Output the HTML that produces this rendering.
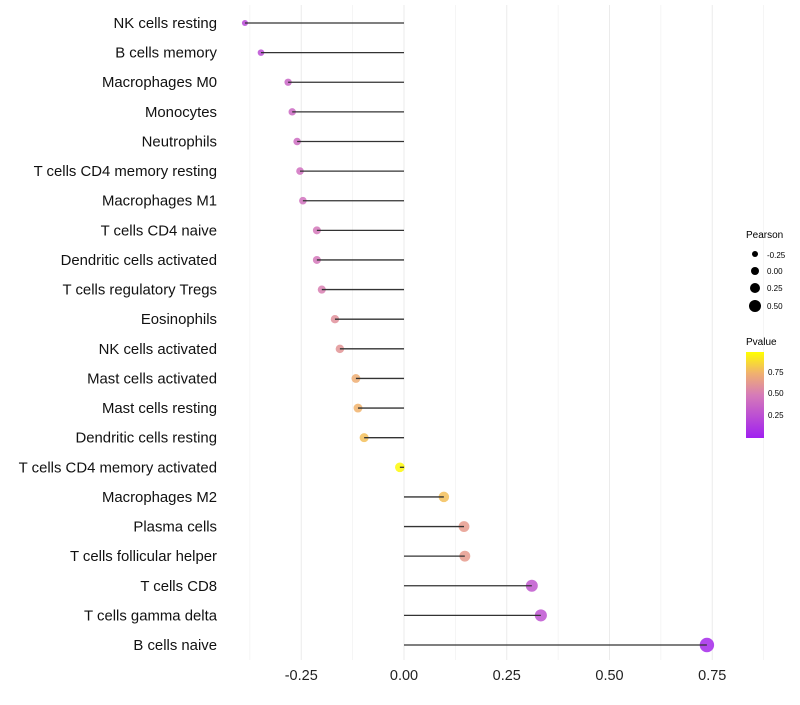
<!DOCTYPE html>
<html><head><meta charset="utf-8"><style>
body{margin:0;background:#fff;font-family:"Liberation Sans",sans-serif}
svg text{font-family:"Liberation Sans",sans-serif}
</style></head><body>
<svg id="chart" width="800" height="700" xmlns="http://www.w3.org/2000/svg">
<defs><linearGradient id="pg" x1="0" y1="1" x2="0" y2="0">
<stop offset="0" stop-color="#a020f0"/><stop offset="0.5" stop-color="#d67bb8"/><stop offset="0.75" stop-color="#f0b070"/><stop offset="1" stop-color="#ffff00"/>
</linearGradient></defs>
<g id="grid"></g>
<g id="marks"></g>
<g id="ylabels"></g>
<g id="xlabels"></g>
<g>
<text x="746" y="238" font-size="10">Pearson</text>
<circle cx="755" cy="254" r="3" fill="#000"/><text x="767" y="258" font-size="8">-0.25</text>
<circle cx="755" cy="271" r="4" fill="#000"/><text x="767" y="274" font-size="8">0.00</text>
<circle cx="755" cy="288" r="5" fill="#000"/><text x="767" y="291" font-size="8">0.25</text>
<circle cx="755" cy="306" r="6" fill="#000"/><text x="767" y="309" font-size="8">0.50</text>
</g>
<g>
<text x="746" y="345" font-size="10">Pvalue</text>
<rect x="746" y="352" width="18" height="86" fill="url(#pg)"/>
<text x="768" y="375" font-size="8">0.75</text>
<text x="768" y="396" font-size="8">0.50</text>
<text x="768" y="418" font-size="8">0.25</text>
</g>
</svg>
<script>
const categories=["NK cells resting","B cells memory","Macrophages M0","Monocytes","Neutrophils","T cells CD4 memory resting","Macrophages M1","T cells CD4 naive","Dendritic cells activated","T cells regulatory  Tregs ","Eosinophils","NK cells activated","Mast cells activated","Mast cells resting","Dendritic cells resting","T cells CD4 memory activated","Macrophages M2","Plasma cells","T cells follicular helper","T cells CD8","T cells gamma delta","B cells naive"];
const pearson=[-0.387,-0.348,-0.282,-0.272,-0.260,-0.253,-0.246,-0.212,-0.212,-0.200,-0.168,-0.156,-0.117,-0.112,-0.097,-0.010,0.097,0.146,0.148,0.311,0.333,0.737];
const pvalues=[0.22,0.25,0.38,0.40,0.42,0.44,0.45,0.48,0.48,0.52,0.60,0.62,0.74,0.76,0.80,0.98,0.80,0.65,0.65,0.30,0.28,0.05];
const xTicks=[-0.25,0,0.25,0.5,0.75];
const xTickLabels=["-0.25","0.00","0.25","0.50","0.75"];
const NS="http://www.w3.org/2000/svg";
const x=v=>404+v*411;
const y=i=>23+i*29.62;
function mk(t,a,p){const e=document.createElementNS(NS,t);for(const k in a)e.setAttribute(k,a[k]);p.appendChild(e);return e;}
function lerp(a,b,t){return a.map((v,i)=>Math.round(v+(b[i]-v)*t));}
function col(p){const s=[[0,[160,32,240]],[0.5,[214,123,184]],[0.75,[240,176,112]],[1,[255,255,0]]];
for(let i=0;i<s.length-1;i++){if(p<=s[i+1][0]){const c=lerp(s[i][1],s[i+1][1],(p-s[i][0])/(s[i+1][0]-s[i][0]));return `rgb(${c})`;}}return "rgb(255,255,0)";}
const grid=document.getElementById('grid'),marks=document.getElementById('marks'),yl=document.getElementById('ylabels'),xl=document.getElementById('xlabels');
for(let k=-0.375;k<=0.876;k+=0.125){const g=mk('line',{x1:x(k),x2:x(k),y1:5,y2:660,stroke:'#ebebeb','stroke-width':Math.abs(k*4-Math.round(k*4))<1e-6?1:0.5},grid);

}
xTicks.forEach((t,i)=>{const e=mk('text',{x:x(t),y:680,'font-size':14.5,'text-anchor':'middle',fill:'#222'},xl);e.textContent=xTickLabels[i];

});
categories.forEach((c,i)=>{
const t=mk('text',{x:217,y:y(i)+5,'font-size':14.9,'text-anchor':'end',fill:'#111'},yl);t.textContent=c;


const d=mk('circle',{cx:x(pearson[i]),cy:y(i),r:Math.sqrt(Math.max(4,24+38*pearson[i])),fill:col(pvalues[i]),'fill-opacity':0.85},marks);


const l=mk('line',{x1:x(0),x2:x(pearson[i]),y1:y(i),y2:y(i),stroke:'#333','stroke-width':1.3},marks);


});
</script>
</body></html>
